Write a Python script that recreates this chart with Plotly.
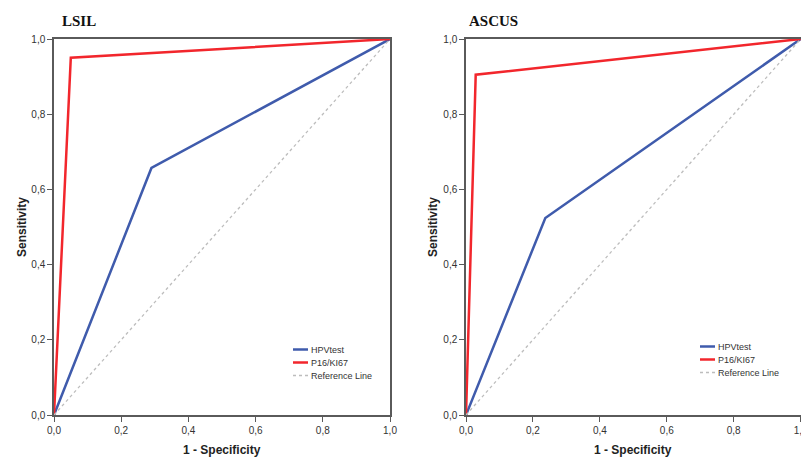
import plotly.graph_objects as go

# ---- data ----
lsil_hpv_fpr = [0.0, 0.29, 1.0]
lsil_hpv_tpr = [0.0, 0.657, 1.0]
lsil_p16_fpr = [0.0, 0.05, 1.0]
lsil_p16_tpr = [0.0, 0.95, 1.0]

ascus_hpv_fpr = [0.0, 0.237, 1.0]
ascus_hpv_tpr = [0.0, 0.524, 1.0]
ascus_p16_fpr = [0.0, 0.029, 1.0]
ascus_p16_tpr = [0.0, 0.905, 1.0]

ref_x = [0.0, 1.0]
ref_y = [0.0, 1.0]

tick_vals = [0.0, 0.2, 0.4, 0.6, 0.8, 1.0]
tick_text = ["0,0", "0,2", "0,4", "0,6", "0,8", "1,0"]

series_names = ["HPVtest", "P16/KI67", "Reference Line"]
panel_titles = ["LSIL", "ASCUS"]

# ---- style ----
W, H = 801, 458
BLUE = "#3f5bac"
RED = "#f2262c"
GREY = "#bdbdbd"
AX = "#5a5a5a"
TXT = "#333333"
FONT = "Liberation Sans, Arial, sans-serif"
series_styles = [
    dict(color=BLUE, width=2.5),
    dict(color=RED, width=2.5),
    dict(color=GREY, width=1.3, dash="dot"),
]

def px_x(p):
    return p / W

def px_y(p):
    return 1 - p / H

y_dom = [px_y(415), px_y(39)]
x1_dom = [px_x(54), px_x(390)]
x2_dom = [px_x(466), 1.0]

fig = go.Figure()

panels = [
    ("x", "y", lsil_hpv_fpr, lsil_hpv_tpr, lsil_p16_fpr, lsil_p16_tpr),
    ("x2", "y2", ascus_hpv_fpr, ascus_hpv_tpr, ascus_p16_fpr, ascus_p16_tpr),
]
for xa, ya, hx, hy, px_, py_ in panels:
    for name, (xs, ys), st in zip(series_names, [(hx, hy), (px_, py_), (ref_x, ref_y)], series_styles):
        fig.add_trace(go.Scatter(x=xs, y=ys, mode="lines", name=name, line=st,
                                 xaxis=xa, yaxis=ya, showlegend=False, hoverinfo="x+y+name"))

axis_common = dict(
    tickvals=tick_vals, ticktext=tick_text, automargin=False,
    showgrid=False, zeroline=False, showline=True, linecolor=AX, linewidth=1.5,
    ticks="outside", ticklen=5, tickwidth=1.2, tickcolor=AX,
    tickfont=dict(family=FONT, size=10, color=TXT),
)

fig.update_layout(
    width=W, height=H,
    margin=dict(l=0, r=0, t=0, b=0),
    paper_bgcolor="white", plot_bgcolor="white",
    showlegend=False,
    xaxis=dict(domain=x1_dom, anchor="y", mirror=True, range=[0, 1], **axis_common),
    yaxis=dict(domain=y_dom, anchor="x", mirror=True, range=[0, 1], **axis_common),
    xaxis2=dict(domain=x2_dom, anchor="y2", mirror=True, range=[0, 1.001],
                ticklabeloverflow="allow", **axis_common),
    yaxis2=dict(domain=y_dom, anchor="x2", mirror=False, range=[0, 1], **axis_common),
)

annotations = []
shapes = []
for title, cx in zip(panel_titles, [60, 467]):
    annotations.append(dict(text="<b>" + title + "</b>", x=px_x(cx), y=px_y(21),
                            xref="paper", yref="paper", xanchor="left", yanchor="middle",
                            showarrow=False,
                            font=dict(family="Liberation Serif, Times New Roman, serif", size=15, color="#111")))
for cx in [222, 633]:
    annotations.append(dict(text="<b>1 - Specificity</b>", x=px_x(cx), y=px_y(450),
                            xref="paper", yref="paper", xanchor="center", yanchor="middle",
                            showarrow=False, font=dict(family=FONT, size=12, color="#222")))
for cx in [22, 433]:
    annotations.append(dict(text="<b>Sensitivity</b>", x=px_x(cx), y=px_y(227),
                            xref="paper", yref="paper", xanchor="center", yanchor="middle",
                            textangle=-90, showarrow=False, font=dict(family=FONT, size=12, color="#222")))

# manual legends (compact SPSS-style)
for lx, ly in [(293, 349.5), (700, 346.5)]:
    for i, (name, st) in enumerate(zip(series_names, series_styles)):
        yy = ly + 13 * i
        shapes.append(dict(type="line", xref="paper", yref="paper",
                           x0=px_x(lx), x1=px_x(lx + 15), y0=px_y(yy), y1=px_y(yy),
                           line=st))
        annotations.append(dict(text=name, x=px_x(lx + 16), y=px_y(yy),
                                xref="paper", yref="paper", xanchor="left", yanchor="middle",
                                showarrow=False, font=dict(family=FONT, size=9, color=TXT)))

fig.update_layout(annotations=annotations, shapes=shapes)

fig.write_html("out.html", config={"displayModeBar": False},
               post_script="document.body.style.margin='0px';document.body.style.overflow='hidden';")
